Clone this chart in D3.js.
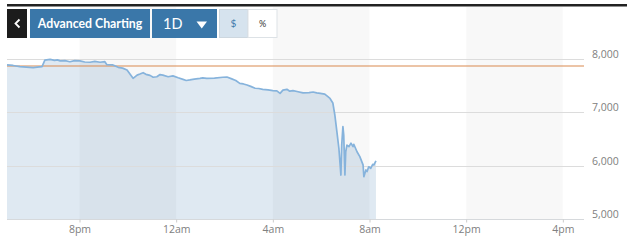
<!DOCTYPE html>
<html>
<head>
<meta charset="utf-8">
<script src="https://cdn.jsdelivr.net/npm/d3@7"></script>
<style>
  body { margin: 0; background: #fff; }
  svg { display: block; }
</style>
</head>
<body>
<div id="chart"></div>
<script>
// Дані графіка
const times = [
  "2020-03-08T17:00", "2020-03-08T17:15", "2020-03-08T17:32", "2020-03-08T17:48",
  "2020-03-08T18:05", "2020-03-08T18:15", "2020-03-08T18:27",
  "2020-03-08T18:34", "2020-03-08T18:47", "2020-03-08T18:58", "2020-03-08T19:05",
  "2020-03-08T19:12", "2020-03-08T19:24", "2020-03-08T19:36", "2020-03-08T19:48",
  "2020-03-08T20:01", "2020-03-08T20:13", "2020-03-08T20:26", "2020-03-08T20:38",
  "2020-03-08T20:51", "2020-03-08T21:03",
  "2020-03-08T21:08", "2020-03-08T21:23", "2020-03-08T21:36", "2020-03-08T21:47",
  "2020-03-08T21:58", "2020-03-08T22:13", "2020-03-08T22:23", "2020-03-08T22:30",
  "2020-03-08T22:38", "2020-03-08T22:45", "2020-03-08T22:55", "2020-03-08T23:03",
  "2020-03-08T23:12", "2020-03-08T23:20", "2020-03-08T23:27", "2020-03-08T23:40",
  "2020-03-08T23:52", "2020-03-09T00:05", "2020-03-09T00:17", "2020-03-09T00:25",
  "2020-03-09T00:34", "2020-03-09T00:45", "2020-03-09T00:59", "2020-03-09T01:06",
  "2020-03-09T01:16", "2020-03-09T01:35", "2020-03-09T01:56", "2020-03-09T02:06",
  "2020-03-09T02:18", "2020-03-09T02:28", "2020-03-09T02:38", "2020-03-09T02:47",
  "2020-03-09T02:56", "2020-03-09T03:05", "2020-03-09T03:16", "2020-03-09T03:25",
  "2020-03-09T03:35", "2020-03-09T03:48", "2020-03-09T04:00", "2020-03-09T04:10",
  "2020-03-09T04:18", "2020-03-09T04:25", "2020-03-09T04:35", "2020-03-09T04:42",
  "2020-03-09T04:50", "2020-03-09T05:00", "2020-03-09T05:15", "2020-03-09T05:30",
  "2020-03-09T05:40", "2020-03-09T05:49", "2020-03-09T05:58", "2020-03-09T06:09",
  "2020-03-09T06:22", "2020-03-09T06:29", "2020-03-09T06:34", "2020-03-09T06:39",
  "2020-03-09T06:44", "2020-03-09T06:49", "2020-03-09T06:51", "2020-03-09T06:54",
  "2020-03-09T06:56", "2020-03-09T06:59", "2020-03-09T07:01", "2020-03-09T07:04",
  "2020-03-09T07:09", "2020-03-09T07:14", "2020-03-09T07:19", "2020-03-09T07:21",
  "2020-03-09T07:29", "2020-03-09T07:36", "2020-03-09T07:44", "2020-03-09T07:46",
  "2020-03-09T07:51", "2020-03-09T07:54", "2020-03-09T07:58", "2020-03-09T08:03",
  "2020-03-09T08:08", "2020-03-09T08:11", "2020-03-09T08:16"
];
const prices = [
  7880, 7870, 7850, 7840,
  7830, 7840, 7850,
  7970, 7985, 7965, 7975,
  7955, 7960, 7940, 7960,
  7955, 7935, 7930, 7945,
  7930, 7940,
  7885, 7880, 7835, 7820,
  7785, 7630, 7690, 7710,
  7735, 7705, 7685, 7650,
  7660, 7700, 7690, 7660,
  7675, 7640, 7610, 7590,
  7600, 7615, 7630, 7640,
  7630, 7635, 7650, 7655,
  7620, 7590, 7535, 7525,
  7505, 7480, 7445, 7440,
  7425, 7415, 7400, 7395,
  7350, 7410, 7425, 7390,
  7400, 7385, 7360, 7365,
  7375, 7360, 7350, 7335,
  7255, 7170, 6945, 6635,
  6325, 5825, 6385, 6730,
  6575, 5825, 6260, 6385,
  6355, 6420, 6355, 6400,
  6260, 6170, 6015, 5795,
  5920, 5890, 5980, 5950,
  6025, 6015, 6090
];
const previousClose = 7860;
const yTicks = [5000, 6000, 7000, 8000];
const xTickLabels = ["8pm", "12am", "4am", "8am", "12pm", "4pm"];
const xTickTimes = ["2020-03-08T20:00", "2020-03-09T00:00", "2020-03-09T04:00",
                    "2020-03-09T08:00", "2020-03-09T12:00", "2020-03-09T16:00"];
const bandStarts = ["2020-03-08T20:00", "2020-03-09T04:00", "2020-03-09T12:00"];
const dayStart = "2020-03-08T17:00";
const dayEnd = "2020-03-09T17:00";

const WIDTH = 629;
const HEIGHT = 240;
const LEFT = 7;
const RIGHT = 587;
const GRID_RIGHT = 584;

const parse = d3.timeParse("%Y-%m-%dT%H:%M");
const data = times.map((t, i) => ({ t: parse(t), v: prices[i] }));

const x = d3.scaleTime()
  .domain([parse(dayStart), parse(dayEnd)])
  .range([LEFT, RIGHT]);
const y = d3.scaleLinear()
  .domain([5000, 8000])
  .range([219.3, 58.5]);

const svg = d3.select("#chart").append("svg")
  .attr("width", WIDTH)
  .attr("height", HEIGHT);

// Область під лінією
svg.append("path")
  .datum(data)
  .attr("fill", "#dfe9f2")
  .attr("d", d3.area().x(d => x(d.t)).y0(y(5000)).y1(d => y(d.v)));

// Вертикальні смуги по 4 години
svg.selectAll(".band")
  .data(bandStarts)
  .join("rect")
  .attr("class", "band")
  .attr("x", d => x(parse(d)))
  .attr("width", d => x(d3.timeHour.offset(parse(d), 4)) - x(parse(d)))
  .attr("y", 7)
  .attr("height", y(5000) - 7)
  .attr("fill", "#000")
  .attr("fill-opacity", 0.027);

// Горизонтальна сітка
svg.selectAll(".grid")
  .data(yTicks)
  .join("line")
  .attr("class", "grid")
  .attr("x1", LEFT).attr("x2", GRID_RIGHT)
  .attr("y1", d => Math.round(y(d)) + 0.5)
  .attr("y2", d => Math.round(y(d)) + 0.5)
  .attr("stroke", d => d === 5000 ? "#d6d9dc" : "#dcdcdc")
  .attr("stroke-width", 1);

// Підписи осі Y
svg.selectAll(".ylab")
  .data(yTicks)
  .join("text")
  .attr("class", "ylab")
  .attr("x", 592)
  .attr("y", d => y(d) - 1)
  .attr("font-family", "Open Sans, sans-serif")
  .attr("font-size", 10.5)
  .attr("fill", "#808080")
  .text(d => d3.format(",")(d));

// Вісь X
const xAxis = d3.axisBottom(x)
  .tickValues(xTickTimes.map(parse))
  .tickFormat((d, i) => xTickLabels[i])
  .tickSize(3)
  .tickSizeOuter(0);
const gx = svg.append("g")
  .attr("transform", `translate(0,${Math.round(y(5000)) + 0.5})`)
  .call(xAxis);
gx.select(".domain").remove();
gx.selectAll(".tick line").attr("stroke", "#ccc");
gx.selectAll(".tick text")
  .attr("y", 6)
  .attr("font-family", "Open Sans, sans-serif")
  .attr("font-size", 10.5)
  .attr("fill", "#808080");

// Лінія попереднього закриття
svg.append("line")
  .attr("x1", LEFT).attr("x2", GRID_RIGHT)
  .attr("y1", y(previousClose)).attr("y2", y(previousClose))
  .attr("stroke", "#d9894e")
  .attr("stroke-width", 1);

// Лінія ціни
svg.append("path")
  .datum(data)
  .attr("fill", "none")
  .attr("stroke", "#86b3dc")
  .attr("stroke-width", 1.7)
  .attr("stroke-linejoin", "round")
  .attr("d", d3.line().x(d => x(d.t)).y(d => y(d.v)));

// Верхня панель
svg.append("rect")
  .attr("x", 7).attr("y", 4).attr("width", 620).attr("height", 2.5)
  .attr("fill", "#222");

// Кнопки
const buttons = [
  { x: 7, w: 20, fill: "#1c1c1c" },
  { x: 30, w: 120, fill: "#3a77a9" },
  { x: 152, w: 65, fill: "#3a77a9" }
];
svg.selectAll(".btn")
  .data(buttons)
  .join("rect")
  .attr("class", "btn")
  .attr("x", d => d.x).attr("y", 9)
  .attr("width", d => d.w).attr("height", 29)
  .attr("fill", d => d.fill);

// Стрілка назад
svg.append("path")
  .attr("d", "M19.5,19.5 L15.5,23.5 L19.5,27.5")
  .attr("fill", "none")
  .attr("stroke", "#fff")
  .attr("stroke-width", 1.8);

svg.append("text")
  .attr("x", 90).attr("y", 28)
  .attr("text-anchor", "middle")
  .attr("font-family", "Lato, sans-serif")
  .attr("font-weight", "bold")
  .attr("font-size", 12.3)
  .attr("fill", "#fff")
  .text("Advanced Charting");

svg.append("text")
  .attr("x", 163).attr("y", 29)
  .attr("font-family", "Lato, sans-serif")
  .attr("font-size", 14.5)
  .attr("fill", "#fff")
  .text("1D");

svg.append("path")
  .attr("d", "M196.5,21.5 L207,21.5 L201.75,28.5 Z")
  .attr("fill", "#fff");

// Перемикач $ / %
svg.append("rect")
  .attr("x", 219.5).attr("y", 9.5).attr("width", 28.5).attr("height", 28)
  .attr("fill", "#d6e3ee").attr("stroke", "#cdd7df");
svg.append("rect")
  .attr("x", 248).attr("y", 9.5).attr("width", 29).attr("height", 28)
  .attr("fill", "#fff").attr("stroke", "#dde2e6");
svg.append("text")
  .attr("x", 233.5).attr("y", 27)
  .attr("text-anchor", "middle")
  .attr("font-family", "Lato, sans-serif")
  .attr("font-size", 10)
  .attr("fill", "#3a77a9")
  .text("$");
svg.append("text")
  .attr("x", 262.5).attr("y", 27)
  .attr("text-anchor", "middle")
  .attr("font-family", "Lato, sans-serif")
  .attr("font-size", 9)
  .attr("fill", "#333")
  .text("%");
</script>
</body>
</html>
